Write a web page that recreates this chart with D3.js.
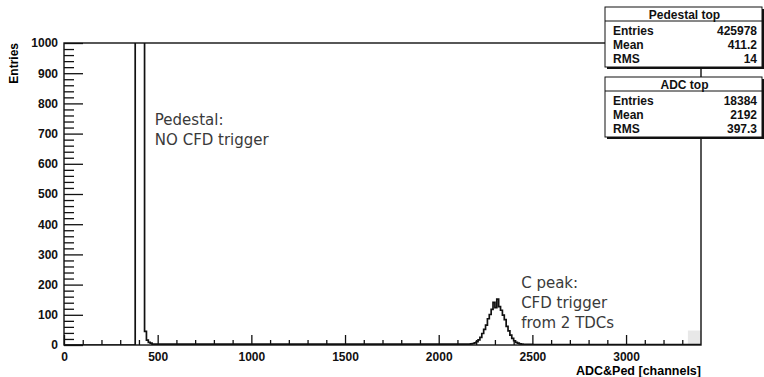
<!DOCTYPE html>
<html>
<head>
<meta charset="utf-8">
<script src="https://cdn.jsdelivr.net/npm/d3@7"></script>
<style>
  body { margin: 0; background: #fff; }
  svg { display: block; }
  .tick text { font-family: "Liberation Sans", Arial, sans-serif; font-weight: bold; font-size: 12px; fill: #111; }
</style>
</head>
<body>
<svg id="chart" width="764" height="377"></svg>
<script>
// histogram bin edges (ADC channels) and counts per bin
const binEdges = [0, 380, 390, 400, 410, 420, 430, 440, 450, 460, 470, 2150,
  2160, 2170, 2180, 2190, 2200, 2210, 2220, 2230, 2240, 2250,
  2260, 2270, 2280, 2290, 2300, 2310, 2320, 2330, 2340, 2350,
  2360, 2370, 2380, 2390, 2400, 2410, 2420, 2430, 2440, 2450,
  2460, 2500, 3300, 3400];
const binCounts = [0, 9000, 70000, 125000, 118000, 62000, 45, 16, 9, 6, 3,
  3,
  3, 4, 5, 7, 11, 17, 25, 38, 52, 66,
  87, 101, 118, 141, 124, 152, 127, 115, 99, 84,
  62, 47, 33, 22, 14, 9, 6, 4, 3, 2,
  2, 1, 1];

const xMajor = [0, 500, 1000, 1500, 2000, 2500, 3000];
const yMajor = [0, 100, 200, 300, 400, 500, 600, 700, 800, 900, 1000];

const notes = [
  { x: 485, y: 730, lines: ["Pedestal:", "NO CFD trigger"] },
  { x: 2440, y: 188, lines: ["C peak:", "CFD trigger", "from 2 TDCs"] }
];

const statBoxes = [
  { title: "Pedestal top", rows: [["Entries", "425978"], ["Mean", "411.2"], ["RMS", "14"]] },
  { title: "ADC top", rows: [["Entries", "18384"], ["Mean", "2192"], ["RMS", "397.3"]] }
];

const svg = d3.select("#chart");
const margin = { top: 43, right: 63, bottom: 32, left: 64 };
const width = +svg.attr("width") - margin.left - margin.right;
const height = +svg.attr("height") - margin.top - margin.bottom;

const x = d3.scaleLinear().domain([0, 3400]).range([0, width]);
const y = d3.scaleLinear().domain([0, 1000]).range([height, 0]);

const g = svg.append("g").attr("transform", `translate(${margin.left},${margin.top})`);

g.append("clipPath").attr("id", "clip")
  .append("rect").attr("width", width).attr("height", height);

// faint grey patch in the lower right corner
g.append("rect")
  .attr("x", x(3330)).attr("y", y(48))
  .attr("width", x(3400) - x(3330)).attr("height", y(0) - y(48))
  .attr("fill", "#e8e8e8");

// step outline of the histogram
let d = `M${x(binEdges[0])},${y(0)}`;
binCounts.forEach((c, i) => {
  d += `L${x(binEdges[i])},${y(c)}L${x(binEdges[i + 1])},${y(c)}`;
});
d += `L${x(binEdges[binEdges.length - 1])},${y(0)}`;
g.append("path")
  .attr("clip-path", "url(#clip)")
  .attr("d", d)
  .attr("fill", "none")
  .attr("stroke", "#111")
  .attr("stroke-width", 1.7);

// X axis, ticks pointing inward
const xAxis = g.append("g").attr("transform", `translate(0,${height})`);
xAxis.call(d3.axisBottom(x).tickValues(xMajor).tickSize(-10).tickPadding(7).tickFormat(d3.format("d")));
xAxis.append("g").call(d3.axisBottom(x).tickValues(d3.range(100, 3400, 100).filter(v => v % 500)).tickSize(-5).tickFormat(""));

// Y axis
const yAxis = g.append("g");
yAxis.call(d3.axisLeft(y).tickValues(yMajor).tickSize(-19).tickPadding(6).tickFormat(d3.format("d")));
yAxis.append("g").call(d3.axisLeft(y).tickValues(d3.range(20, 1000, 20).filter(v => v % 100)).tickSize(-10).tickFormat(""));

svg.selectAll(".domain").remove();
svg.selectAll(".tick line").attr("stroke", "#111").attr("stroke-width", 1.3);

// frame
g.append("rect")
  .attr("width", width).attr("height", height)
  .attr("fill", "none").attr("stroke", "#111").attr("stroke-width", 1.4);

// axis titles
svg.append("text")
  .attr("x", margin.left + width).attr("y", 375)
  .attr("text-anchor", "end")
  .style("font-family", "Liberation Sans, Arial, sans-serif")
  .style("font-weight", "bold").style("font-size", "12.5px")
  .text("ADC&Ped [channels]");

svg.append("text")
  .attr("transform", "translate(18,43) rotate(-90)")
  .attr("text-anchor", "end")
  .style("font-family", "Liberation Sans, Arial, sans-serif")
  .style("font-weight", "bold").style("font-size", "12px")
  .text("Entries");

// annotations
notes.forEach(n => {
  const t = g.append("text")
    .attr("x", x(n.x)).attr("y", y(n.y))
    .style("font-family", "DejaVu Sans, sans-serif")
    .style("font-size", "15px")
    .attr("fill", "#3a3a3a");
  n.lines.forEach((l, i) => {
    t.append("tspan").attr("x", x(n.x)).attr("dy", i ? 20 : 0).text(l);
  });
});

// statistics boxes
const boxX = 605, boxW = 157, rowH = 14;
const boxTops = [7, 77];
statBoxes.forEach((b, k) => {
  const top = boxTops[k];
  const h = 14 + b.rows.length * rowH + 4;
  const bg = svg.append("g");
  bg.append("rect").attr("x", boxX + 2).attr("y", top + 2).attr("width", boxW).attr("height", h).attr("fill", "#111");
  bg.append("rect").attr("x", boxX).attr("y", top).attr("width", boxW).attr("height", h)
    .attr("fill", "#fff").attr("stroke", "#111").attr("stroke-width", 1);
  bg.append("line").attr("x1", boxX).attr("x2", boxX + boxW).attr("y1", top + 14).attr("y2", top + 14)
    .attr("stroke", "#111");
  const font = s => s.style("font-family", "Liberation Sans, Arial, sans-serif")
    .style("font-weight", "bold").style("font-size", "12px").attr("fill", "#111");
  bg.append("text").attr("x", boxX + boxW / 2 + 1).attr("y", top + 11.5)
    .attr("text-anchor", "middle").call(font).text(b.title);
  b.rows.forEach((r, i) => {
    const yy = top + 28 + i * rowH;
    bg.append("text").attr("x", boxX + 8).attr("y", yy).call(font).text(r[0]);
    bg.append("text").attr("x", boxX + boxW - 5).attr("y", yy).attr("text-anchor", "end").call(font).text(r[1]);
  });
});
</script>
</body>
</html>
